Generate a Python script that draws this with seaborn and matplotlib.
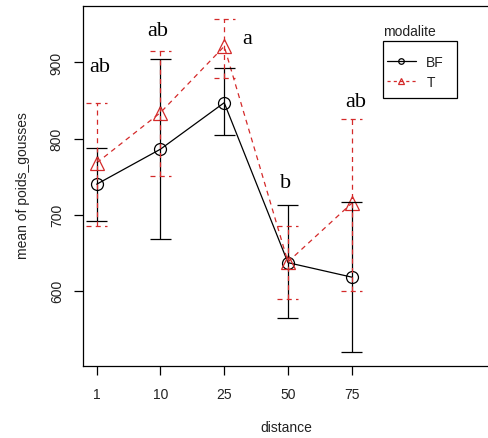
import numpy as np
import pandas as pd
import matplotlib
matplotlib.use("Agg")
import matplotlib.pyplot as plt
from matplotlib.lines import Line2D
from matplotlib.patches import Rectangle
import seaborn as sns

# ---- data ----
distance = ["1", "10", "25", "50", "75"]
bf_mean = [740, 786, 847, 637, 618]
bf_upper = [787, 904, 893, 713, 716]
bf_lower = [692, 668, 804, 564, 520]
t_mean = [768, 834, 921, 638, 715]
t_upper = [847, 915, 957, 685, 826]
t_lower = [685, 751, 880, 589, 600]
letters = ["ab", "ab", "a", "b", "ab"]
# letter anchor positions (layout)
letter_x = [0.04, 0.95, 2.36, 2.96, 4.07]
letter_y = [888, 936, 926, 736, 843]

RED = "#D42A2A"
BLACK = "black"

sns.set_theme(style="white")
plt.rcParams["font.family"] = ["Liberation Sans", "DejaVu Sans"]

W, H = 488, 439
fig = plt.figure(figsize=(W / 100, H / 100), dpi=100)
x0_px, step_px = 96.7, 63.75
left, right, top, bottom = 82.5, 498.0, 7.0, 366.7
ax = fig.add_axes([left / W, 1 - bottom / H, (right - left) / W, (bottom - top) / H])

pos = np.arange(len(distance))
df = pd.DataFrame({
    "pos": np.concatenate([pos, pos]),
    "mean": bf_mean + t_mean,
    "modalite": ["BF"] * len(distance) + ["T"] * len(distance),
})

lw = 0.9
dash = (4.0, 3.4)

sns.lineplot(data=df[df.modalite == "BF"], x="pos", y="mean", ax=ax, color=BLACK,
             lw=lw, marker="o", markersize=8.6, markerfacecolor="none",
             markeredgecolor=BLACK, markeredgewidth=lw, legend=False)
sns.lineplot(data=df[df.modalite == "T"], x="pos", y="mean", ax=ax, color=RED,
             lw=lw, marker="^", markersize=10.5, markerfacecolor="none",
             markeredgecolor=RED, markeredgewidth=lw, legend=False,
             dashes=False, linestyle=(0, dash))

cap = 0.165
# BF error bars (solid)
ax.vlines(pos, bf_lower, bf_upper, colors=BLACK, lw=lw)
ax.hlines(bf_upper, pos - cap, pos + cap, colors=BLACK, lw=lw)
ax.hlines(bf_lower, pos - cap, pos + cap, colors=BLACK, lw=lw)
# T error bars (dashed)
ax.vlines(pos, t_lower, t_upper, colors=RED, lw=lw, linestyles=[(0, dash)])
ax.hlines(t_upper, pos - cap, pos + cap, colors=RED, lw=lw, linestyles=[(0, dash)])
ax.hlines(t_lower, pos - cap, pos + cap, colors=RED, lw=lw, linestyles=[(0, dash)])

for lx, ly, s in zip(letter_x, letter_y, letters):
    ax.text(lx, ly, s, ha="center", va="baseline", fontsize=16,
            family=["Liberation Serif", "DejaVu Serif"], color="black")

ax.set_xlim((left - x0_px) / step_px, (right - x0_px) / step_px)
ax.set_ylim(501.7, 974)
ax.set_xticks(pos)
ax.set_xticklabels(distance)
ax.set_yticks([600, 700, 800, 900])
ax.set_yticklabels(["600", "700", "800", "900"], rotation=90, va="center")
ax.tick_params(axis="both", which="both", direction="out", length=6.5, width=0.9,
               color="black", labelsize=10, labelcolor="#222222",
               left=True, bottom=True)
ax.tick_params(axis="x", pad=9)
ax.tick_params(axis="y", pad=7)
for side in ["left", "bottom", "top", "right"]:
    ax.spines[side].set_color("black")
    ax.spines[side].set_linewidth(0.9)
ax.grid(False)
ax.set_xlabel("")
ax.set_ylabel("")

fig.text(286.7 / W, 1 - 428 / H, "distance", ha="center", va="center",
         fontsize=10, color="#222222")
fig.text(22.7 / W, 1 - 186 / H, "mean of poids_gousses", ha="center", va="center",
         rotation=90, fontsize=10, color="#222222")

# legend box (frame drawn separately so padding matches R's legend)
fig.patches.append(Rectangle((382.7 / W, 1 - 99.3 / H), (457 - 382.7) / W,
                             (99.3 - 41.7) / H, transform=fig.transFigure,
                             fill=True, facecolor="white", edgecolor="black",
                             lw=0.9, zorder=5))
handles = [
    Line2D([], [], color=BLACK, lw=lw, marker="o", markersize=4,
           markerfacecolor="none", markeredgecolor=BLACK, markeredgewidth=lw),
    Line2D([], [], color=RED, lw=lw, linestyle=(0, (2.5, 2.5)), marker="^",
           markersize=5, markerfacecolor="none", markeredgecolor=RED,
           markeredgewidth=lw),
]
leg = fig.legend(handles, ["BF", "T"], loc="upper left",
                 bbox_to_anchor=(386.7 / W, 1 - 56 / H), bbox_transform=fig.transFigure,
                 borderaxespad=0, frameon=False, fontsize=10,
                 handlelength=2.1, handletextpad=0.75, borderpad=0,
                 labelspacing=0.4, labelcolor="#222222")
leg.set_zorder(6)
fig.text(383 / W, 1 - 32 / H, "modalite", ha="left", va="center", fontsize=10,
         color="#222222")

fig.savefig("out.png", dpi=100)
